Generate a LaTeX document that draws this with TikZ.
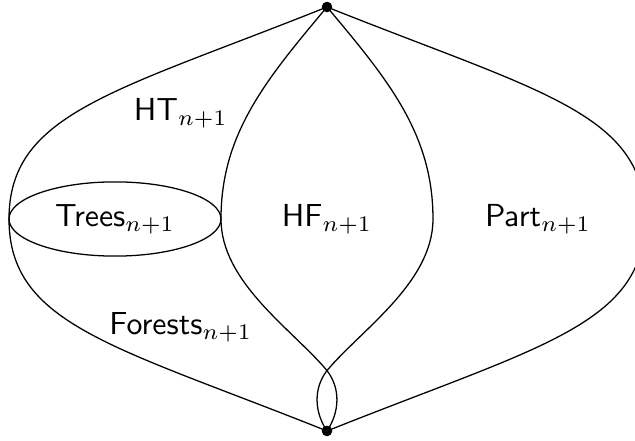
\documentclass[tikz,border=0pt]{standalone}
\usepackage{tikz}
\usetikzlibrary{positioning, calc}

\tikzset{
  setlabel/.style={inner sep=1pt},
  vertexdot/.style={fill=black}
}

\begin{document}
\begin{tikzpicture}[x=1.17cm, y=1.17cm]
    \useasboundingbox (-3.085,-2.094) rectangle (2.906,2.066);

    % end points of the curves
    \coordinate (top) at (0,2);
    \coordinate (bot) at (0,-2);
    \coordinate (outL) at (-3,0);
    \coordinate (outR) at (3,0);
    \coordinate (inL) at (-1,0);
    \coordinate (inR) at (1,0);
    \coordinate (cross) at (0,-1.43);

    % outer boundary
    \draw (top) .. controls (-2.0,1.2) and (-3,1.0) .. (outL)
                .. controls (-3,-1.0) and (-2.0,-1.2) .. (bot);
    \draw (top) .. controls (2.0,1.2) and (3,1.0) .. (outR)
                .. controls (3,-1.0) and (2.0,-1.2) .. (bot);

    % inner curves, crossing above the bottom point
    \draw (top) .. controls (-0.58,1.31) and (-1,0.8) .. (inL)
                .. controls (-1,-0.6) and (-0.32,-1.047) .. (cross)
                .. controls (0.13,-1.6) and (0.12,-1.82) .. (bot);
    \draw (top) .. controls (0.58,1.31) and (1,0.8) .. (inR)
                .. controls (1,-0.6) and (0.32,-1.047) .. (cross)
                .. controls (-0.13,-1.6) and (-0.12,-1.82) .. (bot);

    % trees
    \draw (-2,0) ellipse [x radius=1, y radius=0.35];

    \fill[vertexdot] (top) circle (0.05);
    \fill[vertexdot] (bot) circle (0.05);

    \node[setlabel] (trees) at (-2,0) {$\mathsf{Trees}_{n+1}$};
    \node[setlabel] (ht) at (-1.38,1.0) {$\mathsf{HT}_{n+1}$};
    \node[setlabel] (hf) at (0,0) {$\mathsf{HF}_{n+1}$};
    \node[setlabel] (part) at (1.99,0) {$\mathsf{Part}_{n+1}$};
    \node[setlabel] (forests) at (-1.38,-1.02) {$\mathsf{Forests}_{n+1}$};
  \end{tikzpicture}
\end{document}
